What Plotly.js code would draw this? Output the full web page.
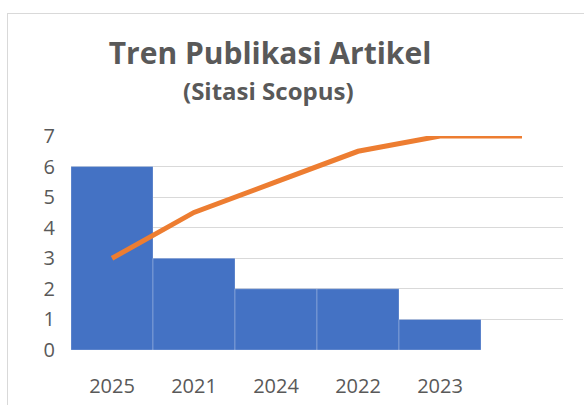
<!DOCTYPE html>
<html>
<head>
<meta charset="utf-8">
<script src="https://cdn.plot.ly/plotly-3.0.1.min.js"></script>
<style>
  html, body { margin: 0; padding: 0; background: #fff; overflow: hidden; }
  #frame { position: absolute; left: 7px; top: 13px; width: 590px; height: 400px;
           border-top: 1px solid #D9D9D9; border-left: 1px solid #D9D9D9; }
  #chart { position: absolute; left: 0; top: -1px; width: 577px; height: 392px; }
</style>
</head>
<body>
<div id="frame"><div id="chart"></div></div>
<script>
// Data
const categories = ["2025", "2021", "2024", "2022", "2023", ""];
const barValues = [6, 3, 2, 2, 1, null];
const lineValues = [3, 4.5, 5.5, 6.5, 7, 7];
const yTicks = [0, 1, 2, 3, 4, 5, 6, 7];
const titleText = "Tren Publikasi Artikel";
const subtitleText = "(Sitasi Scopus)";

const idx = categories.map((c, i) => i);
const labelIdx = categories.map((c, i) => i).filter(i => categories[i] !== "");

const textColor = "#595959";
const font = "'Open Sans', 'Noto Sans', sans-serif";

const traces = [
  {
    type: "bar",
    x: idx,
    y: barValues,
    width: 1,
    marker: { color: "#4472C4", line: { color: "rgba(255,255,255,0.25)", width: 1 } },
    hoverinfo: "skip"
  },
  {
    type: "scatter",
    mode: "lines",
    x: idx,
    y: lineValues,
    line: { color: "#ED7D31", width: 5 },
    hoverinfo: "skip"
  }
];

const layout = {
  width: 577,
  height: 392,
  margin: { l: 63, r: 22, t: 123, b: 55 },
  paper_bgcolor: "rgba(0,0,0,0)",
  plot_bgcolor: "rgba(0,0,0,0)",
  showlegend: false,
  font: { family: font, color: textColor },
  bargap: 0,
  title: {
    text: "<b>" + titleText + "</b>",
    font: { family: font, size: 30, color: textColor },
    xref: "container", x: 262 / 577, xanchor: "center",
    yref: "container", y: 1 - 40 / 392, yanchor: "middle"
  },
  annotations: [{
    text: "<b>" + subtitleText + "</b>",
    font: { family: font, size: 24, color: textColor },
    xref: "paper", x: (260 - 63) / 492, xanchor: "center",
    yref: "paper", y: 1 + (123 - 78) / 214, yanchor: "middle",
    showarrow: false
  }],
  xaxis: {
    type: "linear",
    range: [-0.5, categories.length - 0.5],
    tickvals: labelIdx,
    ticktext: labelIdx.map(i => categories[i]),
    showgrid: false,
    zeroline: false,
    showline: false,
    ticks: "",
    tickfont: { family: font, size: 20, color: textColor },
    ticklabelstandoff: 22,
    fixedrange: true
  },
  yaxis: {
    range: [0, 7],
    tickvals: yTicks,
    showgrid: true,
    gridcolor: "#D9D9D9",
    gridwidth: 1,
    zeroline: false,
    showline: false,
    ticks: "",
    tickfont: { family: font, size: 20, color: textColor },
    ticklabelstandoff: 15,
    fixedrange: true
  }
};

Plotly.newPlot("chart", traces, layout, { staticPlot: true, displayModeBar: false });
</script>
</body>
</html>
